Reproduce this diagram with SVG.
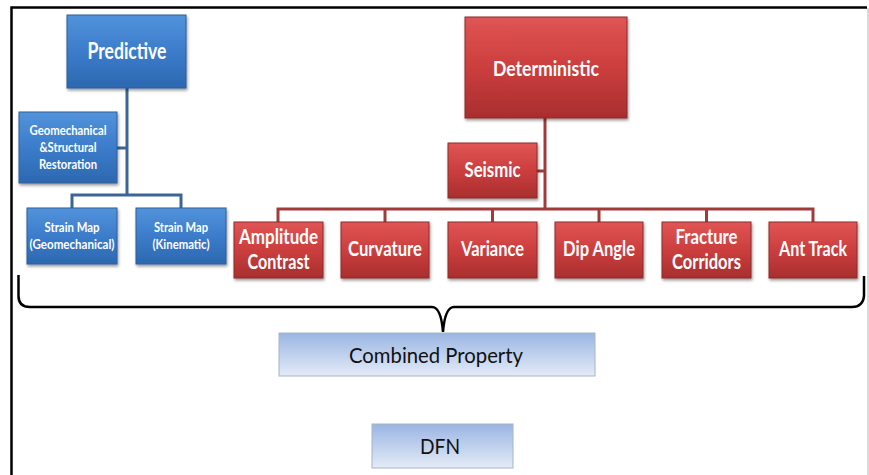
<svg xmlns="http://www.w3.org/2000/svg" width="869" height="475" viewBox="0 0 869 475">
<defs>
<linearGradient id="gb" x1="0" y1="0" x2="0" y2="1"><stop offset="0" stop-color="#5293DB"/><stop offset="0.5" stop-color="#3C7CCB"/><stop offset="1" stop-color="#2C68B0"/></linearGradient>
<linearGradient id="gr" x1="0" y1="0" x2="0" y2="1"><stop offset="0" stop-color="#E05555"/><stop offset="0.5" stop-color="#CC3E3E"/><stop offset="1" stop-color="#A92E2E"/></linearGradient>
<linearGradient id="gl" x1="0" y1="0" x2="0" y2="1"><stop offset="0" stop-color="#9AB5E3"/><stop offset="1" stop-color="#E4EBF7"/></linearGradient>
<filter id="sh" x="-10%" y="-10%" width="125%" height="130%"><feDropShadow dx="1" dy="2" stdDeviation="1.5" flood-color="#000" flood-opacity="0.4"/></filter>
<style>
.b{fill:url(#gb);stroke:#2F5F98;stroke-width:1;filter:url(#sh)}
.r{fill:url(#gr);stroke:#8E2A2A;stroke-width:1;filter:url(#sh)}
.l{fill:url(#gl);stroke:#A6B4C8;stroke-width:1}
text{font-family:Lato,"Liberation Sans",sans-serif;text-anchor:middle}
.t{font-weight:bold;fill:#fff}
.s{font-size:13.5px}
.m{font-size:20px}
.d{fill:#111;font-size:22px}
.cb{fill:none;stroke:#3A6597;stroke-width:3}
.cr{fill:none;stroke:#A23A3A;stroke-width:3}
</style>
</defs>
<rect width="869" height="475" fill="#fff"/>
<g id="frame">
<path d="M11.5 475 V7.5 H867" fill="none" stroke="#000" stroke-width="2.5"/>
<line x1="868" y1="8" x2="868" y2="475" stroke="#ccc" stroke-width="1.5"/>
</g>
<g id="connectors">
<path class="cb" d="M127 88 V195 M117 148 H127 M72 208 V195 H181 V208"/>
<path class="cr" d="M545 118 V209 M537 171 H545 M278 222 V209 H813 V222 M385 209 V222 M492.5 209 V222 M599 209 V222 M706.5 209 V222"/>
<path d="M18.5 275 V296 Q18.5 307 30 307 H432 Q441 307 443 332 Q445 307 454 307 H852 Q863 307 864 296 V276" fill="none" stroke="#000" stroke-width="2.5"/>
</g>
<g id="predictive"><rect class="b" x="67" y="15" width="119" height="73"/><text class="t" x="127" y="59" font-size="23" textLength="79" lengthAdjust="spacingAndGlyphs">Predictive</text></g>
<g id="geomechanical"><rect class="b" x="19" y="112" width="98" height="71"/><text class="t s" x="68" y="135" textLength="77" lengthAdjust="spacingAndGlyphs">Geomechanical</text><text class="t s" x="68" y="152" textLength="57" lengthAdjust="spacingAndGlyphs">&amp;Structural</text><text class="t s" x="68" y="169" textLength="58" lengthAdjust="spacingAndGlyphs">Restoration</text></g>
<g id="strain-geo"><rect class="b" x="27" y="208" width="90" height="56"/><text class="t s" x="72" y="232" textLength="55" lengthAdjust="spacingAndGlyphs">Strain Map</text><text class="t s" x="72" y="249" textLength="85" lengthAdjust="spacingAndGlyphs">(Geomechanical)</text></g>
<g id="strain-kin"><rect class="b" x="136" y="208" width="90" height="56"/><text class="t s" x="181" y="232" textLength="54" lengthAdjust="spacingAndGlyphs">Strain Map</text><text class="t s" x="181" y="249" textLength="57" lengthAdjust="spacingAndGlyphs">(Kinematic)</text></g>
<g id="deterministic"><rect class="r" x="465" y="17" width="162" height="101"/><text class="t" x="546" y="76" font-size="21" textLength="106" lengthAdjust="spacingAndGlyphs">Deterministic</text></g>
<g id="seismic"><rect class="r" x="448" y="143" width="89" height="55"/><text class="t m" x="492.5" y="177" textLength="56" lengthAdjust="spacingAndGlyphs">Seismic</text></g>
<g id="amplitude"><rect class="r" x="234" y="222" width="89" height="56"/><text class="t m" x="278.5" y="244" textLength="79" lengthAdjust="spacingAndGlyphs">Amplitude</text><text class="t m" x="278.5" y="269" textLength="62" lengthAdjust="spacingAndGlyphs">Contrast</text></g>
<g id="curvature"><rect class="r" x="341" y="222" width="88" height="56"/><text class="t m" x="385" y="256" textLength="74" lengthAdjust="spacingAndGlyphs">Curvature</text></g>
<g id="variance"><rect class="r" x="448" y="222" width="89" height="56"/><text class="t m" x="492.5" y="256" textLength="63" lengthAdjust="spacingAndGlyphs">Variance</text></g>
<g id="dip-angle"><rect class="r" x="555" y="222" width="88" height="56"/><text class="t m" x="599" y="256" textLength="72" lengthAdjust="spacingAndGlyphs">Dip Angle</text></g>
<g id="fracture"><rect class="r" x="662" y="222" width="89" height="56"/><text class="t m" x="706.5" y="244" textLength="62" lengthAdjust="spacingAndGlyphs">Fracture</text><text class="t m" x="706.5" y="269" textLength="69" lengthAdjust="spacingAndGlyphs">Corridors</text></g>
<g id="ant-track"><rect class="r" x="769" y="222" width="88" height="56"/><text class="t m" x="813" y="256" textLength="68" lengthAdjust="spacingAndGlyphs">Ant Track</text></g>
<g id="combined"><rect class="l" x="279" y="333" width="316" height="43"/><text class="d" x="436" y="363" textLength="174" lengthAdjust="spacingAndGlyphs">Combined Property</text></g>
<g id="dfn"><rect class="l" x="372" y="424" width="141" height="44"/><text class="d" x="440" y="454" textLength="40" lengthAdjust="spacingAndGlyphs">DFN</text></g>
</svg>
